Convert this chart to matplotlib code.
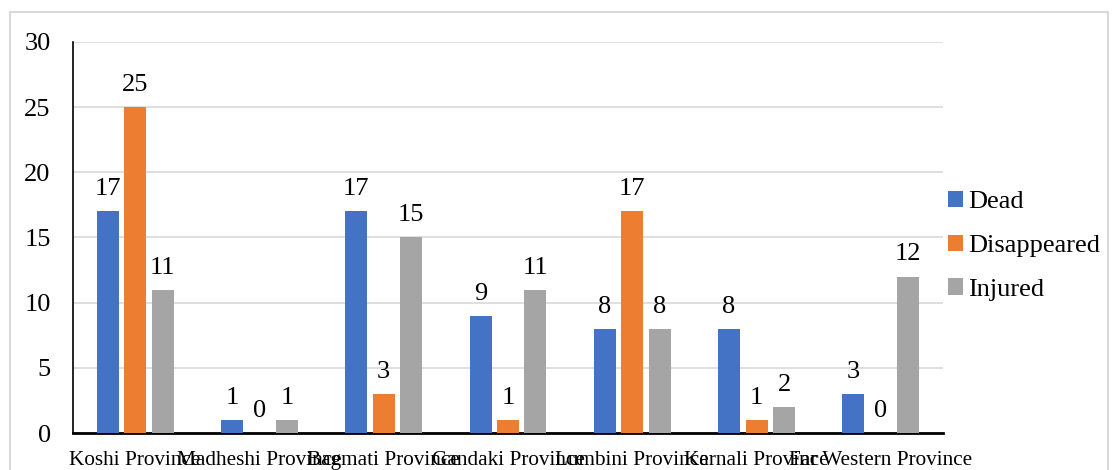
import matplotlib
matplotlib.use("Agg")
import matplotlib.pyplot as plt
from matplotlib.patches import Rectangle, Patch
import numpy as np

provinces = ["Koshi Province", "Madheshi Province", "Bagmati Province",
             "Gandaki Province", "Lumbini Province", "Karnali Province",
             "Far Western Province"]
dead = [17, 1, 17, 9, 8, 8, 3]
disappeared = [25, 0, 3, 1, 17, 1, 0]
injured = [11, 1, 15, 11, 8, 2, 12]
series_names = ["Dead", "Disappeared", "Injured"]
colors = ["#4472C4", "#ED7D31", "#A5A5A5"]
y_ticks = [0, 5, 10, 15, 20, 25, 30]

plt.rcParams["font.family"] = ["Liberation Serif", "DejaVu Serif"]

fig = plt.figure(figsize=(11.14, 4.70), dpi=100)
ax = fig.add_axes([0.0655, 0.0787, 0.781, 0.832])

# Light grey chart-area frame
fig.patches.append(Rectangle((10 / 1114, -0.1), 1098 / 1114, 1.1 - 12 / 470,
                             transform=fig.transFigure, fill=False,
                             edgecolor="#D9D9D9", linewidth=1.5))

x = np.arange(len(provinces))
width = 0.177
step = 0.221
for i, (vals, name, c) in enumerate(zip([dead, disappeared, injured], series_names, colors)):
    bars = ax.bar(x + (i - 1) * step, vals, width=width, color=c, label=name, zorder=3)
    ax.bar_label(bars, labels=[str(v) for v in vals], padding=8, fontsize=19, color="black")

ax.set_xlim(-0.5, len(provinces) - 0.5)
ax.set_ylim(0, 30)
ax.set_yticks(y_ticks)
ax.set_yticklabels([str(t) for t in y_ticks], fontsize=19)
ax.set_xticks(x)
ax.set_xticklabels(provinces, fontsize=15.3)
ax.tick_params(axis="both", length=0)
ax.tick_params(axis="y", pad=16)
ax.tick_params(axis="x", pad=13)
ax.yaxis.grid(True, color="#D9D9D9", linewidth=1.2, zorder=0)
ax.set_axisbelow(True)
for side in ["top", "right"]:
    ax.spines[side].set_visible(False)
ax.spines["left"].set_color("black")
ax.spines["left"].set_linewidth(1.2)
ax.spines["bottom"].set_color("black")
ax.spines["bottom"].set_linewidth(2)

handles = [Patch(facecolor=c, edgecolor="none") for c in colors]
fig.legend(handles, series_names, loc="center left", bbox_to_anchor=(0.851, 0.477),
           frameon=False, fontsize=19, handlelength=0.57, handleheight=0.57,
           handletextpad=0.19, labelspacing=0.81, borderpad=0, borderaxespad=0)

fig.savefig("out.png", dpi=100)
